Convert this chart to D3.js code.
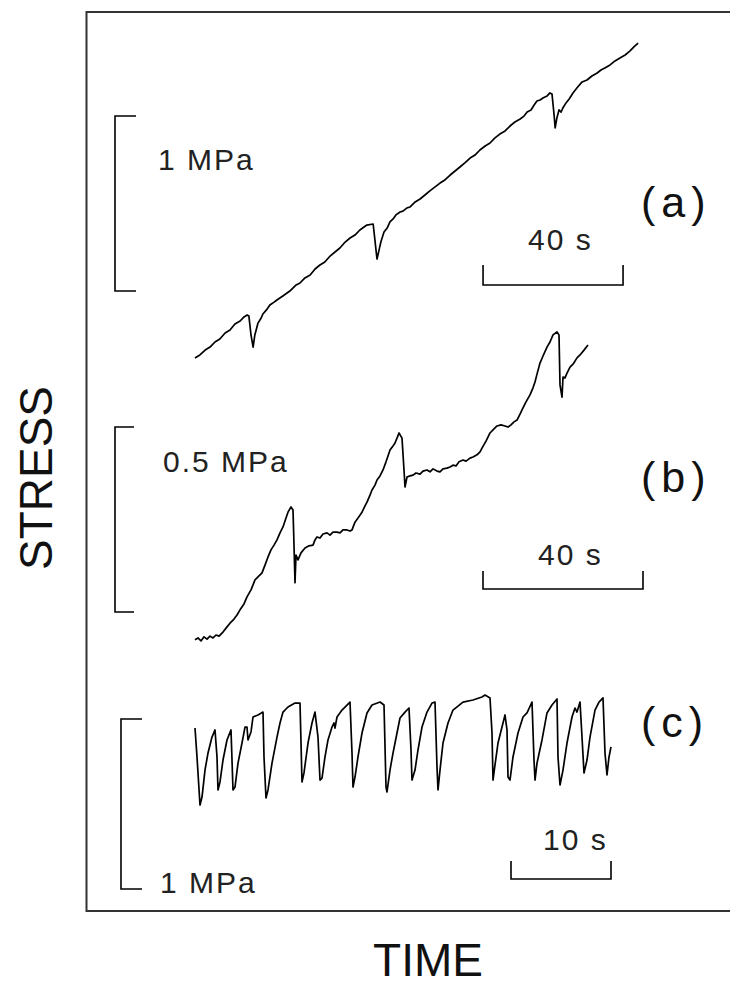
<!DOCTYPE html>
<html><head><meta charset="utf-8">
<script src="https://cdn.jsdelivr.net/npm/d3@7"></script>
<style>
body{margin:0;background:#fff}
svg{display:block}
text{font-family:"Liberation Sans",Arial,Helvetica,sans-serif}
</style>
</head><body>
<svg id="chart" width="730" height="992"></svg>
<script>
// ---------- DATA ----------
// Panel (a): time (s), stress (MPa)
const timeA = [0,1.4,2.9,4.3,5.7,7.1,8.6,10,11.4,12.9,14,14.9,15.4,16,16.6,17.1,18,18.9,19.4,20.6,21.4,22.6,23.4,25.1,27.1,28.9,30,31.4,32.9,34.3,35.7,37.1,38.6,40,41.4,42.9,44.3,45.7,47.1,48.3,49.1,50.9,51.4,52,52.6,53.1,54,54.9,55.7,56.6,57.4,58.6,59.4,60.6,61.4,62.9,64.3,65.7,67.1,68.6,70,71.4,72.9,74.3,75.7,77.1,78.6,80,81.4,82.9,84.3,85.7,87.1,88.6,90,91.4,92.9,94,94.9,96,96.9,97.7,98.6,99.4,100.6,101.4,102,102.6,102.9,103.4,104,104.6,105.1,106,106.9,108,109.1,110.6,112,113.4,114.9,116,117.1,118.6,120,121.4,122.9,124.3,125.4,126.6];
const stressA = [0.011,0.029,0.057,0.074,0.103,0.12,0.154,0.171,0.206,0.223,0.246,0.257,0.251,0.143,0.074,0.143,0.211,0.24,0.263,0.291,0.314,0.331,0.343,0.366,0.394,0.429,0.44,0.469,0.486,0.52,0.543,0.56,0.594,0.617,0.64,0.674,0.697,0.714,0.743,0.76,0.771,0.777,0.686,0.577,0.629,0.674,0.731,0.754,0.789,0.806,0.829,0.846,0.851,0.869,0.874,0.903,0.92,0.943,0.966,0.989,1.011,1.029,1.057,1.08,1.103,1.126,1.154,1.171,1.2,1.223,1.24,1.269,1.291,1.309,1.337,1.36,1.377,1.394,1.417,1.429,1.457,1.48,1.486,1.497,1.509,1.526,1.52,1.4,1.326,1.383,1.429,1.417,1.44,1.469,1.491,1.526,1.554,1.589,1.6,1.623,1.64,1.657,1.669,1.686,1.709,1.726,1.743,1.766,1.789,1.811];

// Panel (b)
const timeB = [0,0.75,1.5,2.25,3,3.75,4.5,5.25,6,7,8,8.75,9.75,10.5,11.25,12.25,13,14,15,15.75,16.75,17.5,18.25,19,19.75,20.5,21.25,22,22.75,23.25,24,24.5,24.75,25,25.25,25.75,26.5,27.5,28.5,29.5,30,30.5,31.25,32,33,33.75,34.5,35.5,36.25,37,38,38.75,39.25,40,40.75,41.75,42.5,43,43.75,44.25,45,45.5,46.25,47,47.75,48.25,48.75,49.5,50,50.5,51,51.75,52.25,52.5,53,53.75,54.5,55.25,56.25,57,58,58.75,59.5,60.5,61.25,62,63,63.75,64.5,65.25,66,67,67.75,68.75,69.5,70.5,71.25,71.75,72.75,73.75,74.75,75.5,76.5,77.5,78.25,79,79.75,80.5,81.25,82,82.75,83.75,84.5,85,85.5,86.25,87,88,88.75,89.5,90.5,91,91.25,91.75,92,92.5,93,93.75,94.5,95.5,96.25,97.25,98.25];
const stressB = [0.014,0.019,0.011,0.022,0.016,0.024,0.019,0.027,0.024,0.035,0.049,0.059,0.07,0.081,0.095,0.111,0.13,0.149,0.176,0.184,0.195,0.216,0.238,0.257,0.27,0.284,0.303,0.319,0.343,0.359,0.373,0.365,0.27,0.168,0.243,0.23,0.249,0.262,0.268,0.27,0.284,0.292,0.289,0.3,0.303,0.297,0.305,0.305,0.303,0.311,0.311,0.308,0.311,0.332,0.343,0.359,0.376,0.386,0.405,0.419,0.432,0.446,0.457,0.473,0.495,0.511,0.527,0.538,0.546,0.559,0.573,0.559,0.473,0.427,0.454,0.457,0.459,0.465,0.462,0.47,0.473,0.468,0.476,0.47,0.468,0.476,0.478,0.481,0.486,0.484,0.495,0.5,0.497,0.505,0.508,0.514,0.522,0.532,0.551,0.573,0.584,0.592,0.595,0.592,0.589,0.595,0.603,0.608,0.624,0.641,0.657,0.676,0.695,0.711,0.732,0.762,0.781,0.805,0.819,0.838,0.846,0.838,0.703,0.67,0.724,0.722,0.735,0.751,0.759,0.776,0.784,0.797,0.811];

// Panel (c)
const timeC = [0,0.2,0.5,0.7,1.0,1.3,1.7,2.0,2.2,2.3,2.5,2.8,3.2,3.6,3.7,3.8,4.0,4.3,4.7,5.0,5.2,5.3,5.6,5.8,6.3,6.8,6.9,7.1,7.3,7.7,8.2,8.5,8.8,9.3,10.0,10.5,10.7,10.9,11.3,11.7,12.0,12.3,12.5,12.7,13.0,13.3,13.7,13.9,14.0,14.2,14.7,15.5,15.7,15.8,16.0,16.3,16.7,17.2,17.7,18.5,18.9,19.1,19.2,19.5,19.8,20.2,20.5,21.0,21.4,21.6,21.7,22.0,22.3,22.7,23.2,23.7,24.0,24.2,24.3,24.5,24.8,25.3,25.8,26.8,27.8,28.7,29.0,29.5,29.7,29.8,30.0,30.3,30.7,31.0,31.2,31.3,31.5,31.8,32.3,32.8,33.2,33.7,33.9,34.0,34.2,34.7,35.2,35.7,36.2,36.3,36.5,36.8,37.2,37.7,38.0,38.2,38.5,38.7,38.9,39.2,39.5,40.0,40.4,40.8,41.0,41.2,41.4,41.6];
const stressC = [0.482,0.312,0.029,0.076,0.235,0.335,0.429,0.471,0.312,0.118,0.165,0.294,0.412,0.471,0.294,0.118,0.135,0.276,0.394,0.488,0.488,0.412,0.459,0.547,0.559,0.576,0.312,0.071,0.118,0.276,0.429,0.512,0.576,0.606,0.629,0.629,0.165,0.218,0.394,0.512,0.576,0.429,0.176,0.188,0.312,0.412,0.488,0.512,0.482,0.547,0.588,0.635,0.335,0.135,0.194,0.312,0.453,0.571,0.618,0.635,0.618,0.135,0.106,0.235,0.335,0.453,0.541,0.576,0.6,0.353,0.176,0.235,0.353,0.488,0.576,0.629,0.635,0.253,0.118,0.235,0.394,0.512,0.588,0.635,0.647,0.665,0.676,0.659,0.453,0.176,0.265,0.394,0.488,0.559,0.471,0.194,0.176,0.312,0.453,0.547,0.571,0.635,0.294,0.176,0.276,0.412,0.571,0.618,0.653,0.312,0.147,0.235,0.394,0.547,0.6,0.576,0.635,0.429,0.218,0.294,0.429,0.588,0.635,0.659,0.335,0.206,0.312,0.371];

// Scale bar values and labels
const panelNames   = ["(a)", "(b)", "(c)"];
const stressBars   = [1, 0.5, 1];          // MPa
const stressLabels = ["1 MPa", "0.5 MPa", "1 MPa"];
const timeBars     = [40, 40, 10];         // s
const timeLabels   = ["40 s", "40 s", "10 s"];
const axisTitles   = ["STRESS", "TIME"];

// ---------- LAYOUT ----------
const svg = d3.select("#chart");
const ink = "#000";

const panels = [
  { t: timeA, s: stressA,
    x: d3.scaleLinear().domain([0, 100]).range([195, 545]),
    y: d3.scaleLinear().domain([0, 2]).range([360, 10]),
    bracketX: 115, bracketTick: 21, bracketBase: 0.394,
    barStart: 82.3, barY: 285, barTick: 20,
    sLabel: [158, 170], tLabel: [528, 250], name: [641, 217] },
  { t: timeB, s: stressB,
    x: d3.scaleLinear().domain([0, 100]).range([195, 595]),
    y: d3.scaleLinear().domain([0, 1]).range([645, 275]),
    bracketX: 115, bracketTick: 19, bracketBase: 0.089,
    barStart: 72, barY: 589, barTick: 18,
    sLabel: [163, 472], tLabel: [538, 565], name: [641, 492] },
  { t: timeC, s: stressC,
    x: d3.scaleLinear().domain([0, 40]).range([195, 595]),
    y: d3.scaleLinear().domain([0, 1]).range([810, 640]),
    bracketX: 121, bracketTick: 21, bracketBase: -0.465,
    barStart: 31.6, barY: 879, barTick: 18,
    sLabel: [160, 893], tLabel: [543, 850], name: [641, 737] }
];

// frame (right side runs off the page)
svg.append("path")
  .attr("d", "M740,12 H86.5 V911 H740")
  .attr("fill", "none").attr("stroke", "#333").attr("stroke-width", 2);

panels.forEach((p, i) => {
  const g = svg.append("g");
  const line = d3.line()
    .x((d, j) => p.x(p.t[j]))
    .y((d, j) => p.y(p.s[j]));
  g.append("path").datum(p.t)
    .attr("d", line)
    .attr("fill", "none").attr("stroke", ink)
    .attr("stroke-width", 1.7).attr("stroke-linejoin", "round");

  // stress scale bracket
  const y0 = p.y(p.bracketBase), y1 = p.y(p.bracketBase + stressBars[i]);
  g.append("path")
    .attr("d", `M${p.bracketX + p.bracketTick},${y1} H${p.bracketX} V${y0} H${p.bracketX + p.bracketTick}`)
    .attr("fill", "none").attr("stroke", ink).attr("stroke-width", 1.6);

  // time scale bar
  const x0 = p.x(p.barStart), x1 = p.x(p.barStart + timeBars[i]);
  g.append("path")
    .attr("d", `M${x0},${p.barY - p.barTick} V${p.barY} H${x1} V${p.barY - p.barTick}`)
    .attr("fill", "none").attr("stroke", ink).attr("stroke-width", 1.6);

  g.append("text").attr("x", p.sLabel[0]).attr("y", p.sLabel[1])
    .attr("font-size", 30).attr("letter-spacing", 2).attr("fill", "#222")
    .text(stressLabels[i]);
  g.append("text").attr("x", p.tLabel[0]).attr("y", p.tLabel[1])
    .attr("font-size", 30).attr("letter-spacing", 2).attr("fill", "#222")
    .text(timeLabels[i]);
  g.append("text").attr("x", p.name[0]).attr("y", p.name[1])
    .attr("font-size", 43).attr("letter-spacing", 6).attr("fill", "#111")
    .text(panelNames[i]);
});

svg.append("text")
  .attr("transform", "translate(52,478) rotate(-90)")
  .attr("text-anchor", "middle").attr("font-size", 46).attr("fill", "#111")
  .text(axisTitles[0]);
svg.append("text")
  .attr("x", 428).attr("y", 976)
  .attr("text-anchor", "middle").attr("font-size", 46).attr("fill", "#111")
  .text(axisTitles[1]);
</script>
</body></html>
